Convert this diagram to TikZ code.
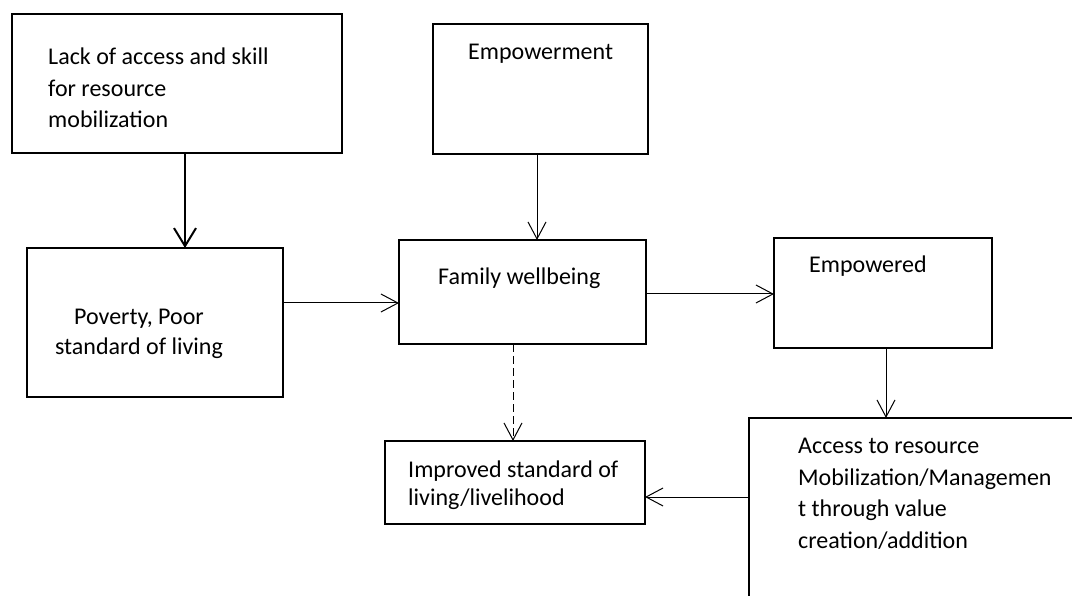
\documentclass[tikz,border=0pt]{standalone}
\usepackage{fontspec}
\setmainfont{Carlito}
\usepackage{tikz}
\usetikzlibrary{positioning,arrows.meta}
\tikzset{
  node-box/.style={draw=black,line width=1.8pt,inner sep=0pt,outer sep=0pt,
    anchor=north west},
  node-text/.style={font=\fontsize{24}{31.5}\selectfont,inner sep=0pt,
    anchor=base west,align=left},
  arrow/.style={-{Straight Barb[length=17pt,width=18pt]},line width=1pt},
  arrow-bold/.style={-{Straight Barb[length=18pt,width=22pt]},line width=2pt},
  arrow-dashed/.style={arrow,dash pattern=on 8pt off 4pt},
}

\begin{document}
\begin{tikzpicture}[x=1pt,y=-1pt]
  \useasboundingbox (0,0) rectangle (1072,596);
  \clip (0,0) rectangle (1072,596);
  % boxes
  \node[node-box,minimum width=330pt,minimum height=139pt] (lack) at (12,14) {};
  \node[node-box,minimum width=256pt,minimum height=149pt] (poverty) at (27,248) {};
  \node[node-box,minimum width=215pt,minimum height=130pt] (empow) at (433,24) {};
  \node[node-box,minimum width=247pt,minimum height=104pt] (family) at (399,240) {};
  \node[node-box,minimum width=218pt,minimum height=110pt] (empowered) at (774,238) {};
  \node[node-box,minimum width=400pt,minimum height=250pt] (access) at (749,418) {};
  \node[node-box,minimum width=260pt,minimum height=83pt] (improved) at (385,441) {};
  % texts (base = last line)
  \node[node-text] (lack-txt) at (48,128) {Lack of access and skill\\for resource\\mobilization};
  \node[node-text,anchor=base,align=center] (poverty-txt) at (139,355) {Poverty, Poor\\[-1.5pt]standard of living};
  \node[node-text] (empow-txt) at (468,60) {Empowerment};
  \node[node-text] (family-txt) at (438,285) {Family wellbeing};
  \node[node-text] (empowered-txt) at (809,273) {Empowered};
  \node[node-text] (access-txt) at (798,548) {Access to resource\\Mobilization/Managemen\\t through value\\creation/addition};
  \node[node-text] (improved-txt) at (408,505) {Improved standard of\\[-3.5pt]living/livelihood};
  % arrows
  \draw[arrow-bold] ([xshift=173pt]lack.south west) -- ([xshift=158pt]poverty.north west);
  \draw[arrow] ([xshift=104pt]empow.south west) -- ([xshift=138pt]family.north west);
  \draw[arrow] ([yshift=-55pt]poverty.north east) -- ([yshift=-63pt]family.north west);
  \draw[arrow] ([yshift=-54pt]family.north east) -- ([yshift=-56pt]empowered.north west);
  \draw[arrow] ([xshift=112pt]empowered.south west) -- ([xshift=137pt]access.north west);
  \draw[arrow-dashed] ([xshift=114pt]family.south west) -- ([xshift=128pt]improved.north west);
  \draw[arrow] ([yshift=-79pt]access.north west) -- ([yshift=-56pt]improved.north east);
\end{tikzpicture}
\end{document}
